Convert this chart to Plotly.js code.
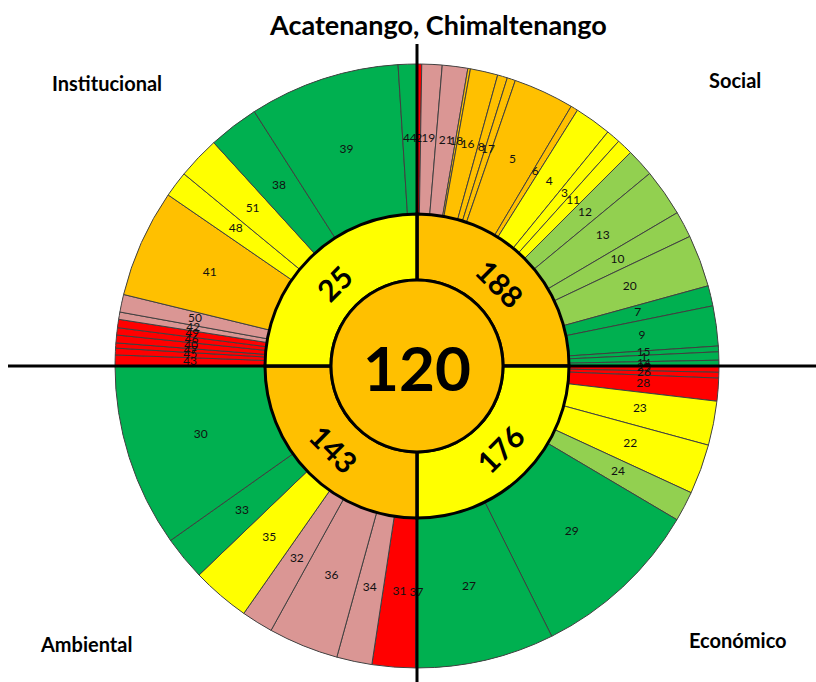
<!DOCTYPE html>
<html>
<head>
<meta charset="utf-8">
<script src="https://cdn.plot.ly/plotly-3.0.1.min.js"></script>
<style>html,body{margin:0;padding:0;background:#fff;}#chart{width:816px;height:682px;}</style>
</head>
<body>
<div id="chart"></div>
<script>
// ---------------- DATA ----------------
const chartTitle = 'Acatenango, Chimaltenango';
const totalScore = 120;
const totalStatus = 'O';

const quadrants = ['Social', 'Económico', 'Ambiental', 'Institucional'];
const quadrantScores = [188, 176, 143, 25];
const quadrantStatus = ['O', 'Y', 'O', 'Y'];

// outer ring: indicator ids, angular weights (degrees within the 90° quadrant), status
const socialIds = [2, 19, 21, 18, 16, 8, 17, 5, 6, 4, 3, 11, 12, 13, 10, 20, 7, 9, 15, 1, 14];
const socialWeights = [0.9, 3.9, 4.9, 0.5, 5.3, 1.9, 1.6, 11.7, 1.4, 7.1, 2.7, 3.1, 5.4, 9.1, 5.1, 10, 3.9, 7.7, 1.1, 1.6, 1.1];
const socialStatus = ['R','P','P','O','O','O','O','O','O','Y','Y','Y','L','L','L','L','G','G','G','G','G'];

const economicoIds = [25, 26, 28, 23, 22, 24, 29, 27];
const economicoWeights = [1.2, 1.1, 4.4, 8.5, 9.6, 5.8, 32.9, 26.5];
const economicoStatus = ['R','R','R','Y','Y','L','G','G'];

const ambientalIds = [37, 31, 34, 36, 32, 35, 33, 30];
const ambientalWeights = [0.3, 8.3, 6.8, 13.5, 6.1, 11.2, 8.5, 35.3];
const ambientalStatus = ['R','R','P','P','P','Y','G','G'];

const institucionalIds = [43, 45, 47, 40, 46, 49, 42, 50, 41, 48, 51, 38, 39, 44];
const institucionalWeights = [2.1, 1.3, 1.0, 1.5, 1.4, 1.6, 1.4, 3.4, 20.8, 5.0, 8.2, 9.7, 29.0, 3.6];
const institucionalStatus = ['R','R','R','R','R','R','P','P','O','Y','Y','G','G','G'];

// ---------------- STYLE ----------------
const statusColor = {R:'#FF0000', P:'#DA9694', O:'#FFC000', Y:'#FFFF00', L:'#92D050', G:'#00B050'};
const W = 816, H = 682;
const CX = 417, CY = 366;          // pixel centre of the rings
const RMAX = 303;                  // radial range (1 unit = 1 px)
const R_CENTER = 86, R_MID = 152, R_OUT = 302;
const FONT = 'Lato, "Open Sans", sans-serif';

// ---------------- BUILD ----------------
const groups = [
  [socialIds, socialWeights, socialStatus],
  [economicoIds, economicoWeights, economicoStatus],
  [ambientalIds, ambientalWeights, ambientalStatus],
  [institucionalIds, institucionalWeights, institucionalStatus]
];

const oTheta = [], oWidth = [], oColor = [], oText = [];
groups.forEach((g, qi) => {
  const [ids, w, st] = g;
  const sum = w.reduce((a, b) => a + b, 0);
  let start = qi * 90;
  ids.forEach((id, i) => {
    const span = w[i] / sum * 90;
    oTheta.push(start + span / 2);
    oWidth.push(span);
    oColor.push(statusColor[st[i]]);
    oText.push(String(id));
    start += span;
  });
});

const outer = {
  type: 'barpolar',
  theta: oTheta, width: oWidth,
  r: oTheta.map(() => R_OUT - R_MID), base: oTheta.map(() => R_MID),
  marker: {color: oColor, line: {color: '#404040', width: 1}},
  hoverinfo: 'text', text: oText
};
const outerLabels = {
  type: 'scatterpolar', mode: 'text',
  theta: oTheta, r: oTheta.map(() => (R_MID + R_OUT) / 2),
  text: oText,
  textfont: {family: FONT, size: 12, color: '#111'},
  hoverinfo: 'skip', cliponaxis: false
};
const qTheta = quadrants.map((q, i) => i * 90 + 45);
const middle = {
  type: 'barpolar',
  theta: qTheta, width: quadrants.map(() => 90),
  r: quadrants.map(() => R_MID - R_CENTER), base: quadrants.map(() => R_CENTER),
  marker: {color: quadrantStatus.map(s => statusColor[s]), line: {color: '#000', width: 3}},
  hoverinfo: 'text', text: quadrantScores.map(String)
};
const center = {
  type: 'barpolar',
  theta: [0], width: [360], r: [R_CENTER], base: [0],
  marker: {color: [statusColor[totalStatus]], line: {color: '#000', width: 3}},
  hoverinfo: 'text', text: [String(totalScore)]
};

const px2x = px => px / W;
const py2y = py => 1 - py / H;

const annotations = [];
// middle ring scores, rotated along the ring
quadrantScores.forEach((s, i) => {
  const th = qTheta[i];
  const rr = (R_CENTER + R_MID) / 2 - 2;
  const rad = th * Math.PI / 180;
  let ang = th;
  if (ang > 90 && ang <= 270) ang -= 180;
  if (ang > 270) ang -= 360;
  annotations.push({
    xref: 'paper', yref: 'paper',
    x: px2x(CX + rr * Math.sin(rad)), y: py2y(CY - rr * Math.cos(rad)),
    text: '<b>' + s + '</b>', showarrow: false, textangle: ang,
    xanchor: 'center', yanchor: 'middle',
    font: {family: FONT, size: 30, color: '#000'}
  });
});
annotations.push({
  xref: 'paper', yref: 'paper', x: px2x(CX), y: py2y(CY + 1),
  text: '<b>' + totalScore + '</b>', showarrow: false,
  xanchor: 'center', yanchor: 'middle',
  font: {family: FONT, size: 62, color: '#000'}
});
// quadrant names
const qPos = [[735, 80], [738, 640], [86, 644], [107, 83]];
quadrants.forEach((q, i) => {
  annotations.push({
    xref: 'paper', yref: 'paper', x: px2x(qPos[i][0]), y: py2y(qPos[i][1]),
    text: '<b>' + q + '</b>', showarrow: false, xanchor: 'center', yanchor: 'middle',
    font: {family: FONT, size: 20, color: '#000'}
  });
});
// title
annotations.push({
  xref: 'paper', yref: 'paper', x: px2x(438), y: py2y(25),
  text: '<b>' + chartTitle + '</b>', showarrow: false, xanchor: 'center', yanchor: 'middle',
  font: {family: FONT, size: 27, color: '#000'}
});

const lineStyle = {color: '#000', width: 3};
const shapes = [
  {type: 'line', xref: 'paper', yref: 'paper', x0: px2x(8), x1: px2x(CX - R_CENTER), y0: py2y(CY), y1: py2y(CY), line: lineStyle},
  {type: 'line', xref: 'paper', yref: 'paper', x0: px2x(CX + R_CENTER), x1: 1, y0: py2y(CY), y1: py2y(CY), line: lineStyle},
  {type: 'line', xref: 'paper', yref: 'paper', x0: px2x(CX), x1: px2x(CX), y0: py2y(44), y1: py2y(CY - R_CENTER), line: lineStyle},
  {type: 'line', xref: 'paper', yref: 'paper', x0: px2x(CX), x1: px2x(CX), y0: py2y(CY + R_CENTER), y1: 0, line: lineStyle}
];

const layout = {
  width: W, height: H,
  margin: {l: 0, r: 0, t: 0, b: 0},
  paper_bgcolor: '#fff',
  showlegend: false,
  polar: {
    domain: {x: [px2x(CX - RMAX), px2x(CX + RMAX)], y: [py2y(CY + RMAX), py2y(CY - RMAX)]},
    bgcolor: 'rgba(0,0,0,0)',
    hole: 0,
    bargap: 0,
    radialaxis: {range: [0, RMAX], visible: false, showgrid: false},
    angularaxis: {rotation: 90, direction: 'clockwise', visible: false, showgrid: false, thetaunit: 'degrees'}
  },
  annotations: annotations,
  shapes: shapes
};

Plotly.newPlot('chart', [outer, middle, center, outerLabels], layout, {displayModeBar: false, staticPlot: true});
</script>
</body>
</html>
